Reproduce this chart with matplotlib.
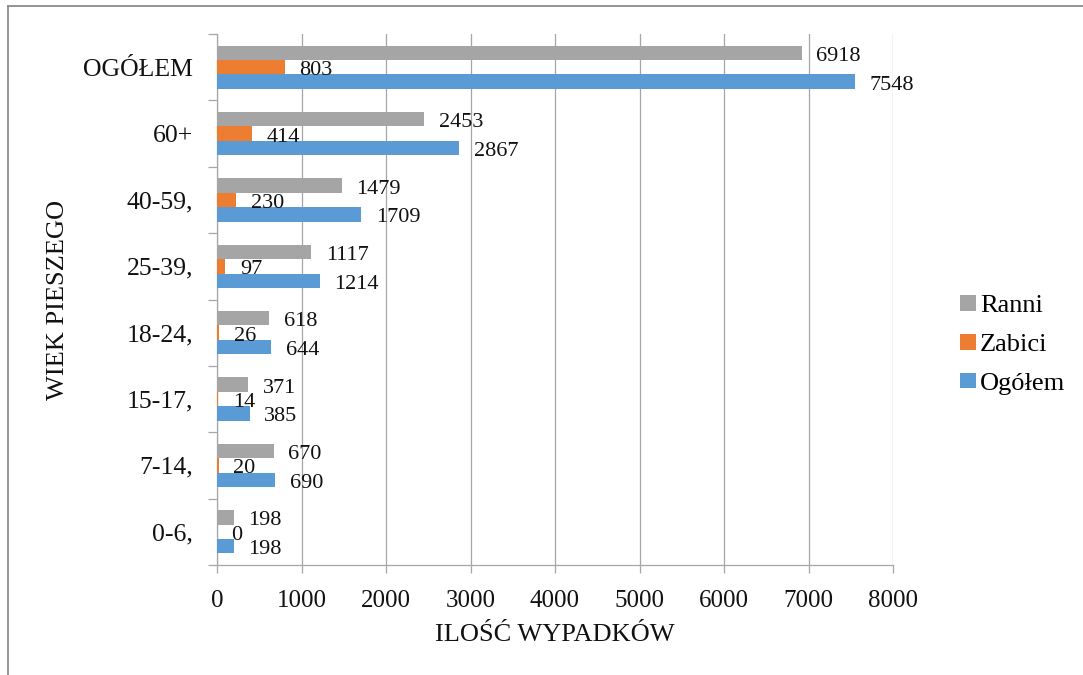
import matplotlib
matplotlib.use("Agg")
import matplotlib.pyplot as plt
from matplotlib.lines import Line2D
from matplotlib.patches import Patch
import numpy as np

# Pedestrian accidents by age group (listed top to bottom as displayed)
categories = ["OGÓŁEM", "60+", "40-59,", "25-39,", "18-24,", "15-17,", "7-14,", "0-6,"]
ranni = [6918, 2453, 1479, 1117, 618, 371, 670, 198]
zabici = [803, 414, 230, 97, 26, 14, 20, 0]
ogolem = [7548, 2867, 1709, 1214, 644, 385, 690, 198]
x_ticks = [0, 1000, 2000, 3000, 4000, 5000, 6000, 7000, 8000]

plt.rcParams["font.family"] = ["Liberation Serif", "DejaVu Serif"]

C_GRAY = "#A5A5A5"
C_ORANGE = "#ED7D31"
C_BLUE = "#5B9BD5"
AX_GRAY = "#A6A6A6"

fig = plt.figure(figsize=(10.83, 6.75), dpi=100)
ax = fig.add_axes([217 / 1083, 1 - 565 / 675, 676 / 1083, 531 / 675])

n = len(categories)
ypos = np.arange(n)[::-1]  # first category at the top
h = 0.217

series = [
    (ranni, C_GRAY, "Ranni", h),
    (zabici, C_ORANGE, "Zabici", 0.0),
    (ogolem, C_BLUE, "Ogółem", -h),
]

for vals, color, name, off in series:
    bars = ax.barh(ypos + off, vals, height=h, color=color, zorder=3)
    for rect, v in zip(bars, vals):
        ax.annotate(f"{v}", xy=(rect.get_width(), rect.get_y() + rect.get_height() / 2),
                    xytext=(10.5, -2.5), textcoords="offset points",
                    ha="left", va="center", fontsize=16, color="#111111", zorder=4)

ax.set_xlim(0, 8000)
ax.set_ylim(-0.5, n - 0.5)
ax.set_xticks(x_ticks)
ax.set_xticklabels([str(t) for t in x_ticks], fontsize=18)
ax.set_yticks(ypos)
ax.set_yticklabels(categories, fontsize=18.5)
ax.set_yticks(np.arange(-0.5, n, 1.0), minor=True)

ax.tick_params(axis="y", which="major", length=0, pad=17.3, colors="#111111")
ax.tick_params(axis="y", which="minor", length=6.5, width=0.9, color=AX_GRAY)
ax.tick_params(axis="x", which="major", length=5.8, width=0.9, color=AX_GRAY,
               pad=12, labelcolor="#111111")

ax.grid(axis="x", color=AX_GRAY, linewidth=0.9, zorder=0)
for s in ["top", "right"]:
    ax.spines[s].set_visible(False)
for s in ["left", "bottom"]:
    ax.spines[s].set_color(AX_GRAY)
    ax.spines[s].set_linewidth(0.9)

ax.set_xlabel("ILOŚĆ WYPADKÓW", fontsize=19, color="#111111", va="center")
ax.xaxis.set_label_coords(0.5, (565 - 635) / 531)
ax.set_ylabel("WIEK PIESZEGO", fontsize=19, color="#111111", va="center")
ax.yaxis.set_label_coords((58 - 217) / 676, 0.5)

handles = [Patch(facecolor=c, edgecolor="none") for _, c, _, _ in series]
labels = [nm for _, _, nm, _ in series]
fig.legend(handles, labels, loc="center left", bbox_to_anchor=(960 / 1083, 1 - 345 / 675),
           frameon=False, fontsize=19, handlelength=0.6, handleheight=0.55,
           handletextpad=0.15, labelspacing=0.62, borderpad=0, borderaxespad=0)

# chart-area frame (top and left edges)
fig.add_artist(Line2D([8 / 1083, 8 / 1083], [0, 1 - 6 / 675], transform=fig.transFigure,
                      color="#8C8C8C", linewidth=1.3))
fig.add_artist(Line2D([8 / 1083, 1], [1 - 6 / 675, 1 - 6 / 675], transform=fig.transFigure,
                      color="#8C8C8C", linewidth=1.3))

fig.savefig("out.png", dpi=100)
